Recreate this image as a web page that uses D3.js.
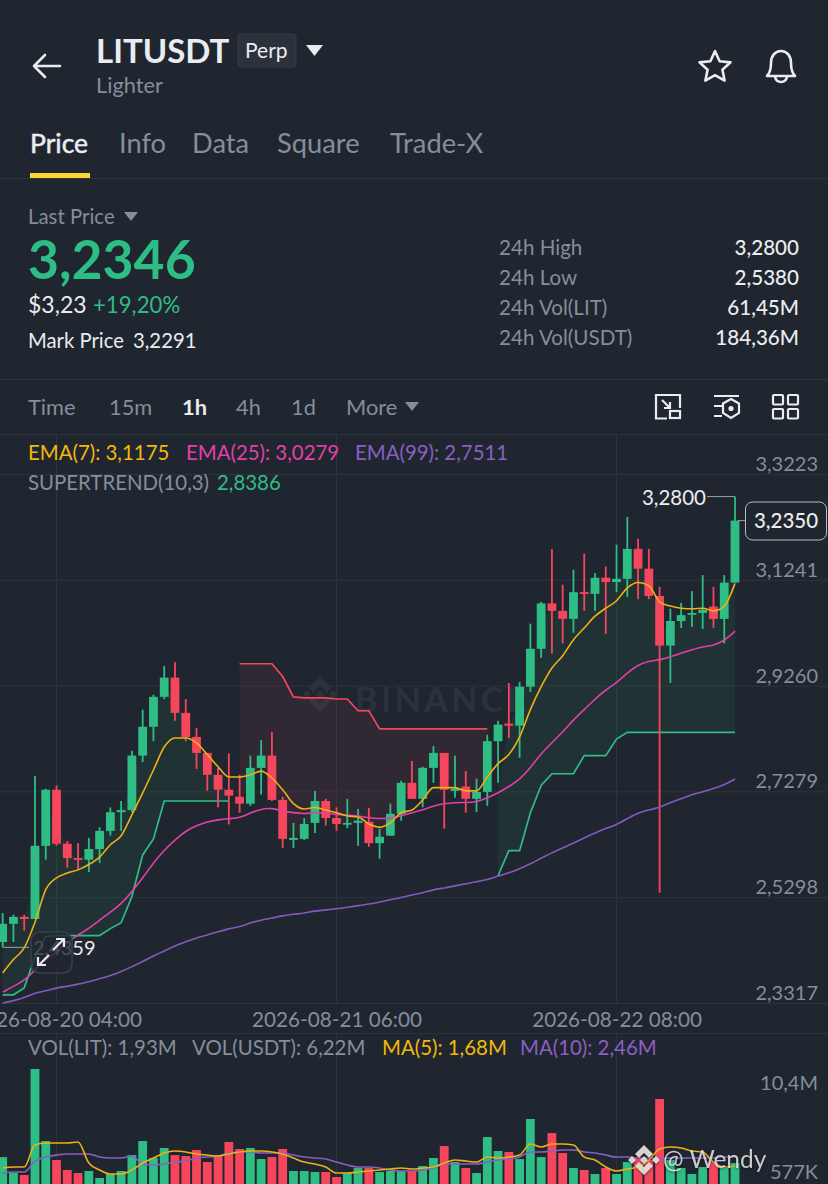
<!DOCTYPE html>
<html>
<head>
<meta charset="utf-8">
<script src="https://cdn.jsdelivr.net/npm/d3@7"></script>
<style>
  html, body { margin: 0; padding: 0; background: #20262f; overflow: hidden; }
  svg { display: block; }
  text { font-family: "Lato", "Open Sans", sans-serif; }
</style>
</head>
<body>
<div id="chart"></div>
<script>
// candles, oldest first, one per hour
const opens = [2.446,2.480,2.493,2.489,2.626,2.731,2.630,2.603,2.600,2.620,2.654,2.689,2.693,2.795,2.849,2.905,2.941,2.875,2.830,2.800,2.759,2.731,2.718,2.705,2.772,2.795,2.712,2.637,2.639,2.669,2.710,2.678,2.667,2.669,2.671,2.631,2.645,2.686,2.744,2.714,2.772,2.800,2.729,2.737,2.714,2.727,2.822,2.855,2.851,2.924,2.995,3.080,3.066,3.051,3.101,3.098,3.128,3.120,3.126,3.182,3.145,3.094,3.001,3.047,3.060,3.062,3.074,3.051,3.119];
const highs = [2.500,2.497,2.497,2.757,2.733,2.739,2.635,2.631,2.641,2.661,2.698,2.710,2.804,2.881,2.909,2.963,2.970,2.901,2.847,2.800,2.772,2.799,2.759,2.795,2.824,2.839,2.718,2.669,2.678,2.729,2.714,2.698,2.714,2.695,2.697,2.658,2.705,2.748,2.785,2.774,2.813,2.800,2.795,2.766,2.752,2.834,2.860,2.931,2.933,3.042,3.083,3.182,3.115,3.143,3.173,3.137,3.149,3.190,3.242,3.201,3.182,3.111,3.070,3.081,3.103,3.133,3.111,3.133,3.2800];
const lows = [2.4359,2.446,2.467,2.489,2.600,2.626,2.585,2.581,2.577,2.594,2.645,2.654,2.689,2.783,2.822,2.901,2.860,2.822,2.770,2.729,2.698,2.666,2.688,2.701,2.722,2.710,2.622,2.622,2.637,2.650,2.664,2.654,2.659,2.626,2.624,2.602,2.645,2.673,2.714,2.698,2.744,2.658,2.716,2.688,2.689,2.701,2.744,2.828,2.791,2.914,2.978,2.986,3.005,3.025,3.066,3.066,3.023,3.101,3.092,3.088,3.088,2.538,2.931,3.034,3.036,3.032,3.034,3.005,3.119];
const closes = [2.480,2.493,2.489,2.626,2.731,2.630,2.603,2.600,2.620,2.654,2.689,2.693,2.795,2.849,2.905,2.941,2.875,2.830,2.800,2.759,2.731,2.720,2.705,2.772,2.795,2.712,2.639,2.641,2.667,2.710,2.678,2.667,2.669,2.673,2.631,2.643,2.686,2.744,2.714,2.772,2.800,2.731,2.733,2.714,2.727,2.822,2.853,2.851,2.924,2.995,3.080,3.066,3.051,3.101,3.098,3.128,3.120,3.126,3.182,3.145,3.094,3.001,3.047,3.058,3.062,3.068,3.051,3.119,3.235];

const ema7 = [2.388,2.413,2.435,2.483,2.544,2.566,2.575,2.581,2.591,2.605,2.628,2.645,2.684,2.725,2.768,2.811,2.828,2.828,2.819,2.797,2.774,2.755,2.755,2.759,2.766,2.753,2.731,2.705,2.695,2.698,2.693,2.688,2.682,2.680,2.667,2.661,2.669,2.688,2.693,2.712,2.735,2.735,2.735,2.729,2.729,2.755,2.780,2.797,2.830,2.881,2.924,2.959,2.982,3.012,3.034,3.056,3.071,3.085,3.109,3.119,3.113,3.083,3.075,3.071,3.070,3.071,3.066,3.075,3.1175];
const ema25 = [2.352,2.363,2.373,2.394,2.413,2.426,2.446,2.459,2.471,2.487,2.502,2.517,2.540,2.566,2.594,2.618,2.637,2.654,2.664,2.671,2.675,2.677,2.678,2.688,2.695,2.697,2.691,2.688,2.686,2.688,2.688,2.684,2.684,2.682,2.678,2.677,2.677,2.682,2.688,2.693,2.701,2.705,2.707,2.707,2.708,2.716,2.725,2.737,2.750,2.772,2.799,2.819,2.839,2.862,2.881,2.901,2.918,2.931,2.950,2.965,2.972,2.974,2.980,2.987,2.993,2.999,3.001,3.010,3.0279];
const ema99 = [2.3317,2.336,2.341,2.351,2.354,2.360,2.363,2.367,2.371,2.377,2.383,2.390,2.400,2.409,2.420,2.429,2.439,2.446,2.454,2.459,2.465,2.471,2.474,2.482,2.487,2.491,2.495,2.498,2.500,2.504,2.506,2.508,2.511,2.514,2.517,2.521,2.525,2.529,2.534,2.538,2.544,2.547,2.551,2.555,2.559,2.562,2.570,2.575,2.583,2.592,2.603,2.613,2.622,2.631,2.641,2.650,2.659,2.665,2.677,2.688,2.693,2.698,2.707,2.714,2.722,2.727,2.733,2.740,2.7511];

// supertrend: up, then down, then up again
const trendUpFirst = [2.347,2.347,2.360,2.418,2.456,2.458,2.458,2.458,2.458,2.458,2.471,2.482,2.531,2.609,2.639,2.710,2.710,2.710,2.710,2.710,2.710,2.710];
const trendDown = [2.967,2.967,2.967,2.967,2.943,2.905,2.903,2.903,2.903,2.901,2.901,2.879,2.879,2.845,2.845,2.845,2.845,2.845,2.845,2.845,2.845,2.845,2.845,2.845];
const trendUpLast = [2.570,2.617,2.617,2.688,2.739,2.761,2.761,2.761,2.795,2.795,2.795,2.826,2.8386,2.8386,2.8386,2.8386,2.8386,2.8386,2.8386,2.8386,2.8386,2.8386,2.8386];
const flipEdge = 2.731;

const volumes = [3.33,1.57,1.35,13.05,5.10,3.00,1.90,1.57,1.79,1.02,1.46,1.79,3.55,5.10,3.22,4.33,3.55,3.44,4.11,2.78,3.55,4.99,4.22,4.33,3.11,3.33,4.22,1.79,1.79,1.68,1.68,1.13,1.57,2.12,2.12,1.68,1.79,1.79,1.79,2.34,3.22,4.55,2.78,2.12,1.57,5.54,4.00,3.89,3.11,7.53,3.33,5.98,3.78,2.12,1.90,1.46,2.12,1.46,2.78,3.33,3.00,9.74,3.00,2.12,1.46,2.23,2.78,2.12,2.67];
const volMa5 = [2.12,2.23,2.23,4.66,4.88,4.88,4.88,4.99,2.67,1.90,1.46,1.46,1.90,2.67,3.22,3.78,4.00,3.89,3.67,3.55,3.44,3.67,3.89,4.00,4.00,3.89,3.67,3.22,2.78,2.56,2.23,1.57,1.57,1.68,1.79,1.90,2.01,2.12,2.01,2.12,2.23,2.67,3.00,2.89,2.78,3.33,3.22,3.33,3.55,4.77,4.44,4.77,4.77,4.66,3.33,3.00,2.23,1.79,2.01,2.23,3.00,4.22,4.44,4.33,4.00,3.89,2.78,2.23,2.34];
const volMa10 = [1.57,1.68,1.68,2.89,3.33,3.55,3.67,3.67,3.67,3.33,3.22,3.22,3.44,2.56,2.45,2.56,2.78,2.89,3.22,3.33,3.44,3.78,3.89,3.89,3.78,3.78,3.78,3.55,3.33,3.22,3.11,2.78,2.45,2.23,2.23,2.12,1.90,1.79,1.79,1.90,2.12,2.56,2.56,2.56,2.56,2.78,3.00,3.11,3.33,3.89,3.89,4.00,4.11,4.11,3.89,3.78,3.55,3.33,3.33,3.22,3.22,3.11,3.22,3.22,3.22,3.22,3.22,3.33,3.33];

const priceTicks = [3.3223, 3.1241, 2.9260, 2.7279, 2.5298, 2.3317];
const volTicks = [10.4, 0.577];
const timeTickIdx = [5, 31, 57];
const timeTickLabels = ["2026-08-20 04:00", "2026-08-21 06:00", "2026-08-22 08:00"];

const tabs = [["Price", 30], ["Info", 119], ["Data", 192], ["Square", 277], ["Trade-X", 390]];
const intervals = [["Time", 28], ["15m", 109], ["1h", 182], ["4h", 236], ["1d", 291], ["More", 346]];
const stats = [["24h High", "3,2800"], ["24h Low", "2,5380"], ["24h Vol(LIT)", "61,45M"], ["24h Vol(USDT)", "184,36M"]];

const GREEN = "#2ebd85", RED = "#f6465d", YELLOW = "#f0b90b", PINK = "#e23fa9", PURPLE = "#8a5fc4";
const WHITE = "#eaecef", GREY = "#848e9c", GRID = "#2e343e";

const width = 828, height = 1184;
const svg = d3.select("#chart").append("svg").attr("width", width).attr("height", height);
svg.append("rect").attr("width", width).attr("height", height).attr("fill", "#20262f");

function label(g, x, y, txt, size, fill, weight, anchor) {
  return g.append("text").attr("x", x).attr("y", y).attr("font-size", size)
    .attr("fill", fill).attr("font-weight", weight || 400)
    .attr("text-anchor", anchor || "start").text(txt);
}
function tri(g, x0, x1, y0, y1, fill) {
  g.append("path").attr("d", `M${x0},${y0}L${x1},${y0}L${(x0 + x1) / 2},${y1}Z`).attr("fill", fill);
}

const comma = f => v => d3.format(f)(v).replace(".", ",");

// header
const head = svg.append("g");
head.append("path").attr("d", "M60,66H34M45,55L34,66L45,77").attr("fill", "none").attr("stroke", WHITE)
  .attr("stroke-width", 2.6).attr("stroke-linecap", "round").attr("stroke-linejoin", "round");
label(head, 96, 63, "LITUSDT", 33, WHITE, 700);
head.append("rect").attr("x", 238).attr("y", 34).attr("width", 58).attr("height", 33).attr("rx", 3)
  .attr("fill", "#2b323c").attr("stroke", "#363d47");
label(head, 245, 58, "Perp", 21, WHITE);
tri(head, 306, 323, 45, 56, WHITE);
label(head, 96, 93, "Lighter", 21.8, GREY);
head.append("path")
  .attr("d", "M715,51L719.6,61.2L730.5,62.4L722.4,69.8L724.6,80.6L715,75.2L705.4,80.6L707.6,69.8L699.5,62.4L710.4,61.2Z")
  .attr("fill", "none").attr("stroke", WHITE).attr("stroke-width", 2.6).attr("stroke-linejoin", "round");
head.append("path")
  .attr("d", "M767,76C771,72 771,67 771,63C771,56 775,51 781,51C787,51 791,56 791,63C791,67 791,72 795,76ZM775,77C776,81 778,82 781,82C784,82 786,81 787,77")
  .attr("fill", "none").attr("stroke", WHITE).attr("stroke-width", 2.6).attr("stroke-linejoin", "round");

tabs.forEach(([t, x], i) => {
  const el = label(head, x, 153, t, i === 0 ? 26.5 : 27.3, i === 0 ? WHITE : GREY);
  if (i === 0) el.attr("stroke", WHITE).attr("stroke-width", 0.5);
});
head.append("rect").attr("x", 30).attr("y", 173).attr("width", 60).attr("height", 5).attr("fill", "#fcd535");
head.append("line").attr("x1", 0).attr("x2", width).attr("y1", 178.5).attr("y2", 178.5).attr("stroke", GRID);

// price summary
const sum = svg.append("g");
label(sum, 28, 224, "Last Price", 20.4, GREY);
tri(sum, 124, 138, 212, 221, GREY);
label(sum, 28, 278.5, "3,2346", 53.5, GREEN, 700);
label(sum, 28, 313, "$3,23", 23, WHITE);
label(sum, 93, 313, "+19,20%", 22.2, GREEN);
label(sum, 28, 348, "Mark Price", 20.3, WHITE);
label(sum, 133, 348, "3,2291", 20.3, WHITE);
stats.forEach(([k, v], i) => {
  label(sum, 499, 254.5 + i * 30, k, 20.6, GREY);
  label(sum, 799, 254.5 + i * 30, v, 20.6, WHITE, 500, "end");
});
sum.append("line").attr("x1", 0).attr("x2", width).attr("y1", 379.5).attr("y2", 379.5).attr("stroke", GRID);

// interval bar
const bar = svg.append("g");
intervals.forEach(([t, x]) => label(bar, x, 414.5, t, 21.8, t === "1h" ? WHITE : GREY, t === "1h" ? 700 : 400));
tri(bar, 405, 419, 402, 411, GREY);
const ic = bar.append("g").attr("fill", "none").attr("stroke", WHITE).attr("stroke-width", 2.2);
ic.append("path").attr("d", "M656,417V395H680V408M656,417V418.5H667M662,400L670,408M670,402V408H664");
ic.append("rect").attr("x", 670).attr("y", 411).attr("width", 10).attr("height", 7);
ic.append("path").attr("d", "M714,396H739M714,406H722M714,416H722");
ic.append("path").attr("d", "M731,399L739,403.5V413L731,418L723,413V403.5Z");
ic.append("circle").attr("cx", 731).attr("cy", 408.5).attr("r", 1.5).attr("fill", WHITE);
[[773, 395], [788, 395], [773, 409], [788, 409]].forEach(([x, y]) =>
  ic.append("rect").attr("x", x).attr("y", y).attr("width", 10).attr("height", 9.5).attr("rx", 1));
bar.append("line").attr("x1", 0).attr("x2", width).attr("y1", 434.5).attr("y2", 434.5).attr("stroke", GRID);

// scales
const x = d3.scaleLinear().domain([0, 68]).range([2.67, 735]);
const y = d3.scaleLinear().domain([2.3317, 3.3223]).range([1003, 474]);
const yVol = d3.scaleLinear().domain([0.577, 10.4]).range([1182, 1093]);

// vertical grid in both panels
const grid = svg.append("g").attr("stroke", GRID);
timeTickIdx.forEach(i => {
  grid.append("line").attr("x1", x(i)).attr("x2", x(i)).attr("y1", 434).attr("y2", 1003);
  grid.append("line").attr("x1", x(i)).attr("x2", x(i)).attr("y1", 1033).attr("y2", height);
});
grid.append("line").attr("x1", 0).attr("x2", width).attr("y1", 1033.5).attr("y2", 1033.5);

// price axis with full width grid lines
const priceAxis = svg.append("g").attr("transform", `translate(${width},0)`)
  .call(d3.axisLeft(y).tickValues(priceTicks).tickSize(width).tickFormat(comma(".4f")));
priceAxis.select(".domain").remove();
priceAxis.selectAll("line").attr("stroke", GRID);
priceAxis.selectAll("text").attr("x", -10).attr("dy", -3.5).attr("font-size", 20).attr("fill", GREY)
  .attr("text-anchor", "end").style("font-family", null);

const timeAxis = svg.append("g").attr("transform", "translate(0,1003)")
  .call(d3.axisBottom(x).tickValues(timeTickIdx).tickSize(0)
    .tickFormat(i => timeTickLabels[timeTickIdx.indexOf(i)]));
timeAxis.select(".domain").remove();
timeAxis.selectAll("text").attr("y", 23.5).attr("dy", 0).attr("font-size", 20.7).attr("fill", GREY)
  .style("font-family", null);

// watermark
const wm = svg.append("g").attr("fill", "#2c323d");
wm.append("path").attr("d", "M320,677L331,688L326.5,692.5L320,686L313.5,692.5L309,688ZM307,690L311.5,694.5L307,699L302.5,694.5ZM333,690L337.5,694.5L333,699L328.5,694.5ZM320,690L324.5,694.5L320,699L315.5,694.5ZM309,701L313.5,696.5L320,703L326.5,696.5L331,701L320,712Z");
label(wm, 355, 712, "BINANCE", 34, "#2c323d", 700).attr("letter-spacing", 3.5);

// supertrend fill and lines
const mid = i => (opens[i] + closes[i]) / 2;
const segments = [
  { start: 0, values: trendUpFirst, color: GREEN, alpha: 0.085 },
  { start: 22, values: trendDown, color: RED, alpha: 0.08 },
  { start: 46, values: trendUpLast, color: GREEN, alpha: 0.085, edge: flipEdge }
];
segments.forEach(s => {
  const pts = s.values.map((v, k) => ({
    i: s.start + k,
    v,
    m: (k === 0 && s.edge) ? s.edge : mid(s.start + k)
  }));
  svg.append("path").datum(pts)
    .attr("fill", s.color).attr("fill-opacity", s.alpha)
    .attr("d", d3.area().x(d => x(d.i)).y0(d => y(d.v)).y1(d => y(d.m)));
  svg.append("path").datum(pts)
    .attr("fill", "none").attr("stroke", s.color).attr("stroke-width", 1.7)
    .attr("d", d3.line().x(d => x(d.i)).y(d => y(d.v)));
});

// candles
const candles = d3.range(opens.length).map(i => ({
  i, o: opens[i], h: highs[i], l: lows[i], c: closes[i]
}));
const cg = svg.append("g").selectAll("g").data(candles).join("g")
  .attr("fill", d => d.c >= d.o ? GREEN : RED)
  .attr("stroke", "none");
cg.append("rect")
  .attr("x", d => x(d.i) - 0.9).attr("width", 1.8)
  .attr("y", d => y(d.h)).attr("height", d => y(d.l) - y(d.h));
cg.append("rect")
  .attr("x", d => x(d.i) - 4.4).attr("width", 8.8)
  .attr("y", d => y(Math.max(d.o, d.c)))
  .attr("height", d => Math.max(1.8, Math.abs(y(d.o) - y(d.c))));

// ema lines, the slow two are drawn smooth
[[ema99, "#8459bd", d3.curveBasis], [ema25, PINK, d3.curveBasis], [ema7, "#edb015", d3.curveMonotoneX]].forEach(([vals, color, curve]) => {
  svg.append("path").datum(vals)
    .attr("fill", "none").attr("stroke", color).attr("stroke-width", 1.6)
    .attr("d", d3.line().x((d, i) => x(i)).y(d => y(d)).curve(curve));
});

// legends
const leg = svg.append("g");
label(leg, 28, 459.5, "EMA(7): 3,1175", 20.4, YELLOW);
label(leg, 186, 459.5, "EMA(25): 3,0279", 20.4, PINK);
label(leg, 355, 459.5, "EMA(99): 2,7511", 20.4, PURPLE);
label(leg, 28, 490, "SUPERTREND(10,3)", 20.4, GREY);
label(leg, 217, 490, "2,8386", 20.4, GREEN);
label(leg, 28, 1054.5, "VOL(LIT): 1,93M", 20.4, GREY);
label(leg, 192, 1054.5, "VOL(USDT): 6,22M", 20.4, GREY);
label(leg, 382, 1054.5, "MA(5): 1,68M", 20.4, YELLOW);
label(leg, 520, 1054.5, "MA(10): 2,46M", 20.4, PURPLE);

// high and low markers
const mark = svg.append("g");
mark.append("path").attr("fill", "none").attr("stroke", "#9aa1ab")
  .attr("d", `M707,${y(3.28)}H${x(68)}`);
label(mark, 706, 504.5, "3,2800", 20.5, WHITE, 400, "end");
mark.append("path").attr("fill", "none").attr("stroke", "#9aa1ab")
  .attr("d", `M${x(0)},${y(2.4359)}H29`);
label(mark, 33, 955, "2,4359", 20, WHITE);

// resize button over the low label
const btn = svg.append("g");
btn.append("rect").attr("x", 31).attr("y", 932).attr("width", 41).attr("height", 41).attr("rx", 9)
  .attr("fill", "#20262f").attr("fill-opacity", 0.8).attr("stroke", "#3a404a").attr("stroke-width", 1.5);
btn.append("path").attr("fill", "none").attr("stroke", WHITE).attr("stroke-width", 2.2)
  .attr("d", "M53,950L63,940M56,939H64V947M49,955L39,965M38,957V965H46");

// last price tag
const tag = svg.append("g");
tag.append("line").attr("x1", x(68) + 3).attr("x2", 745).attr("y1", y(3.235)).attr("y2", y(3.235)).attr("stroke", "#9aa1ab");
tag.append("rect").attr("x", 745.5).attr("y", 502).attr("width", 81).attr("height", 38).attr("rx", 7)
  .attr("fill", "#20262f").attr("stroke", "#b7bdc6");
label(tag, 786, 528, "3,2350", 20.5, WHITE, 500, "middle");

// volume
const volAxis = svg.append("g").attr("transform", `translate(${width},0)`)
  .call(d3.axisLeft(yVol).tickValues(volTicks).tickSize(0)
    .tickFormat(v => v >= 1 ? comma(".1f")(v) + "M" : Math.round(v * 1000) + "K"));
volAxis.select(".domain").remove();
volAxis.selectAll("text").attr("x", -10).attr("dy", -3.5).attr("font-size", 20).attr("fill", GREY)
  .attr("text-anchor", "end").style("font-family", null);

svg.append("g").selectAll("rect").data(volumes).join("rect")
  .attr("x", (d, i) => x(i) - 4.4).attr("width", 8.8)
  .attr("y", d => yVol(d)).attr("height", d => yVol(0) - yVol(d))
  .attr("fill", (d, i) => closes[i] >= opens[i] ? GREEN : RED);

[[volMa10, PURPLE], [volMa5, "#edb015"]].forEach(([vals, color]) => {
  svg.append("path").datum(vals)
    .attr("fill", "none").attr("stroke", color).attr("stroke-width", 1.6)
    .attr("d", d3.line().x((d, i) => x(i)).y(d => yVol(d)).curve(d3.curveMonotoneX));
});

// author stamp
const stamp = svg.append("g").style("filter", "drop-shadow(0 1px 1px rgba(0,0,0,.5))");
stamp.append("path").attr("fill", "#ece7e2").attr("opacity", 0.9)
  .attr("d", "M644,1145L653,1154L649,1158L644,1153L639,1158L635,1154ZM632,1156L636,1160L632,1164L628,1160ZM656,1156L660,1160L656,1164L652,1160ZM644,1156L648,1160L644,1164L640,1160ZM635,1166L639,1162L644,1167L649,1162L653,1166L644,1175Z");
label(stamp, 663, 1168, "@ Wendy", 24.5, "#e8e8e8").attr("opacity", 0.85);
</script>
</body>
</html>
